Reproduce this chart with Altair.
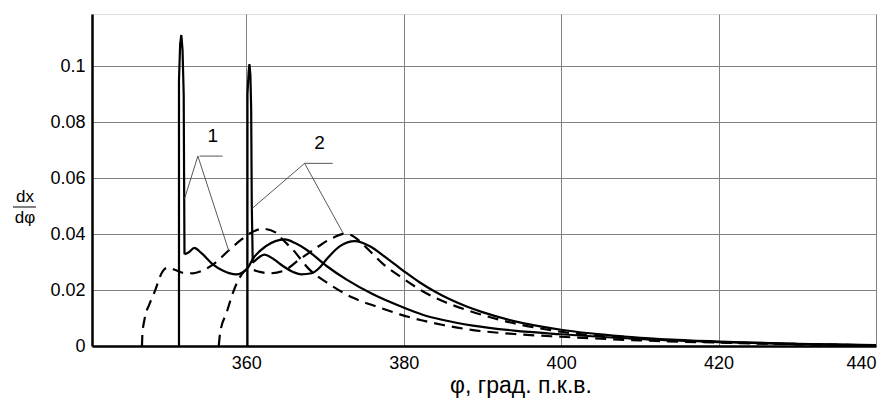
import altair as alt
import pandas as pd

# ---- data ----
# solid curve 1: sharp spike, then smooth tail
solid1_spike_x = [351.45, 351.45, 351.6, 351.75, 351.9, 352.05, 352.1, 352.15]
solid1_spike_y = [0, 0.095, 0.108, 0.1112, 0.106, 0.09, 0.06, 0.0328]
solid1_x = [352.15, 352.7, 353.4, 354.2, 355.75, 357.0, 358.7, 360.2, 360.8, 362.5, 363.7, 364.9, 366.2,
            367.6, 370.2, 372.7, 376.1, 379.5, 382.4, 385.0, 388.8, 394.0, 400.0, 410.0, 420.0, 430.0, 440.0]
solid1_y = [0.0328, 0.0335, 0.0351, 0.0335, 0.0292, 0.027, 0.0256, 0.028, 0.031, 0.0357, 0.0375, 0.0381,
            0.0368, 0.0345, 0.0286, 0.0238, 0.0185, 0.0143, 0.0112, 0.0093, 0.0073, 0.0055, 0.0042, 0.0025,
            0.0014, 0.0007, 0.0002]

# solid curve 2
solid2_spike_x = [360.15, 360.15, 360.3, 360.4, 360.52, 360.62, 360.7, 360.82]
solid2_spike_y = [0, 0.09, 0.098, 0.1008, 0.097, 0.085, 0.05, 0.0298]
solid2_x = [360.82, 361.3, 362.3, 363.5, 364.65, 366.0, 367.0, 368.3, 369.3, 370.2, 371.9, 373.8, 375.7,
            377.8, 380.0, 382.0, 384.0, 386.0, 388.0, 390.0, 394.0, 400.0, 408.0, 420.0, 430.0, 440.0]
solid2_y = [0.0298, 0.031, 0.0327, 0.031, 0.0286, 0.0264, 0.0256, 0.026, 0.028, 0.031, 0.0357, 0.0375,
            0.0357, 0.0315, 0.0268, 0.0228, 0.0194, 0.0165, 0.0141, 0.0121, 0.0089, 0.0058, 0.0034, 0.0016,
            0.0008, 0.0003]

# dashed curves
dashed1_x = [346.75, 346.8, 347.07, 347.7, 348.3, 349.4, 350.0, 351.1, 351.9, 353.2, 354.3, 355.8, 357.9,
             359.4, 360.8, 362.1, 363.8, 364.65, 365.9, 368.0, 370.6, 373.5, 377.0, 379.5, 382.4, 385.0, 388.8,
             394.0, 400.0, 410.0, 420.0, 430.0, 440.0]
dashed1_y = [0, 0.004, 0.0095, 0.015, 0.019, 0.0268, 0.028, 0.0271, 0.0262, 0.026, 0.0268, 0.0292, 0.0345,
             0.0381, 0.0408, 0.0419, 0.0405, 0.038, 0.0345, 0.0274, 0.022, 0.0173, 0.0137, 0.0113, 0.0091,
             0.0075, 0.0057, 0.0043, 0.0033, 0.002, 0.0012, 0.0006, 0.0002]

dashed2_x = [356.5, 356.7, 357.5, 358.3, 359.15, 360.2, 360.8, 361.7, 363.0, 364.65, 366.8, 368.9, 371.0,
             372.5, 373.3, 374.5, 375.5, 377.4, 380.0, 382.4, 385.0, 388.4, 392.0, 395.2, 400.0, 408.0, 420.0,
             430.0, 440.0]
dashed2_y = [0, 0.005, 0.0119, 0.019, 0.0244, 0.0274, 0.0272, 0.0265, 0.026, 0.0268, 0.031, 0.0351, 0.0387,
             0.0401, 0.0397, 0.0372, 0.0345, 0.0293, 0.024, 0.0196, 0.016, 0.0125, 0.0095, 0.0074, 0.0051,
             0.0029, 0.0014, 0.0007, 0.0002]

x_ticks = [360, 380, 400, 420, 440]
y_ticks = [0, 0.02, 0.04, 0.06, 0.08, 0.1]

# annotation labels and leader segments (data units)
ann_labels = ["1", "2"]
ann_label_x = [355.75, 369.3]
ann_label_y = [0.0714, 0.0690]
lead_x1 = [354.06, 353.85, 353.85, 367.41, 367.41, 367.41]
lead_y1 = [0.0679, 0.0679, 0.0679, 0.0653, 0.0653, 0.0653]
lead_x2 = [356.99, 352.15, 357.79, 370.97, 360.71, 372.37]
lead_y2 = [0.0679, 0.0526, 0.0339, 0.0653, 0.0491, 0.0400]

FONT = "Liberation Sans, Arial, sans-serif"

# ---- tables ----
def table(parts):
    rows = []
    for name, xs, ys in parts:
        for i, (a, b) in enumerate(zip(xs, ys)):
            rows.append({"series": name, "idx": i, "phi": a, "v": b})
    return pd.DataFrame(rows)

spike_df = table([("s1", solid1_spike_x, solid1_spike_y), ("s2", solid2_spike_x, solid2_spike_y)])
solid_df = table([("s1", solid1_x, solid1_y), ("s2", solid2_x, solid2_y)])
dash_df = table([("d1", dashed1_x, dashed1_y), ("d2", dashed2_x, dashed2_y)])

lead_df = pd.DataFrame({"x": lead_x1, "y": lead_y1, "x2": lead_x2, "y2": lead_y2})
lab_df = pd.DataFrame({"t": ann_labels, "x": ann_label_x, "y": ann_label_y})

xscale = alt.Scale(domain=[340.4, 440], nice=False, zero=False)
yscale = alt.Scale(domain=[0, 0.1187], nice=False)

xaxis = alt.Axis(values=x_ticks, title=None, grid=True, gridColor="#808080", gridWidth=1,
                 domainColor="black", domainWidth=2.5, ticks=False, labelPadding=8,
                 labelFont=FONT, labelFontSize=18, labelColor="black")
yaxis = alt.Axis(values=y_ticks, title=None, grid=True, gridColor="#808080", gridWidth=1,
                 domainColor="black", domainWidth=2.5, ticks=False, labelPadding=7,
                 labelFont=FONT, labelFontSize=18, labelColor="black", format=".2~f")

spikes = alt.Chart(spike_df).mark_line(color="black", strokeWidth=2.2).encode(
    x=alt.X("phi:Q", scale=xscale, axis=xaxis),
    y=alt.Y("v:Q", scale=yscale, axis=yaxis),
    detail="series:N", order="idx:Q")

solid = alt.Chart(solid_df).mark_line(color="black", strokeWidth=2.2, interpolate="monotone").encode(
    x=alt.X("phi:Q", scale=xscale),
    y=alt.Y("v:Q", scale=yscale),
    detail="series:N", order="idx:Q")

dashed = alt.Chart(dash_df).mark_line(color="black", strokeWidth=2.2, strokeDash=[11, 7],
                                      interpolate="monotone").encode(
    x=alt.X("phi:Q", scale=xscale),
    y=alt.Y("v:Q", scale=yscale),
    detail="series:N", order="idx:Q")

leaders = alt.Chart(lead_df).mark_rule(color="#444444", strokeWidth=0.9).encode(
    x=alt.X("x:Q", scale=xscale), y=alt.Y("y:Q", scale=yscale),
    x2="x2:Q", y2="y2:Q")

labels = alt.Chart(lab_df).mark_text(font=FONT, fontSize=19, color="black", baseline="bottom").encode(
    x=alt.X("x:Q", scale=xscale), y=alt.Y("y:Q", scale=yscale), text="t:N")

one = alt.Data(values=[{"a": 1}])
ytitle_top = alt.Chart(one).mark_text(text="dx", font=FONT, fontSize=17, color="black",
                                      baseline="alphabetic").encode(x=alt.value(-67), y=alt.value(188))
ytitle_line = alt.Chart(one).mark_rule(color="black", strokeWidth=1).encode(
    x=alt.value(-79), x2=alt.value(-56), y=alt.value(193))
ytitle_bot = alt.Chart(one).mark_text(text="dφ", font=FONT, fontSize=17, color="black",
                                      baseline="alphabetic").encode(x=alt.value(-67), y=alt.value(209))
xtitle = alt.Chart(one).mark_text(text="φ, град. п.к.в.", font=FONT, fontSize=23, color="black",
                                  baseline="alphabetic").encode(x=alt.value(429), y=alt.value(379))

chart = alt.layer(spikes, solid, dashed, leaders, labels, ytitle_top, ytitle_line, ytitle_bot,
                  xtitle).properties(
    width=784, height=332,
    autosize=alt.AutoSizeParams(type="none"),
    padding={"left": 84, "top": 6, "right": 6, "bottom": 56},
).configure_view(stroke="#555555", strokeWidth=1.2).configure(background="white")

chart.save("out.html", embed_options={"renderer": "svg", "actions": False})
